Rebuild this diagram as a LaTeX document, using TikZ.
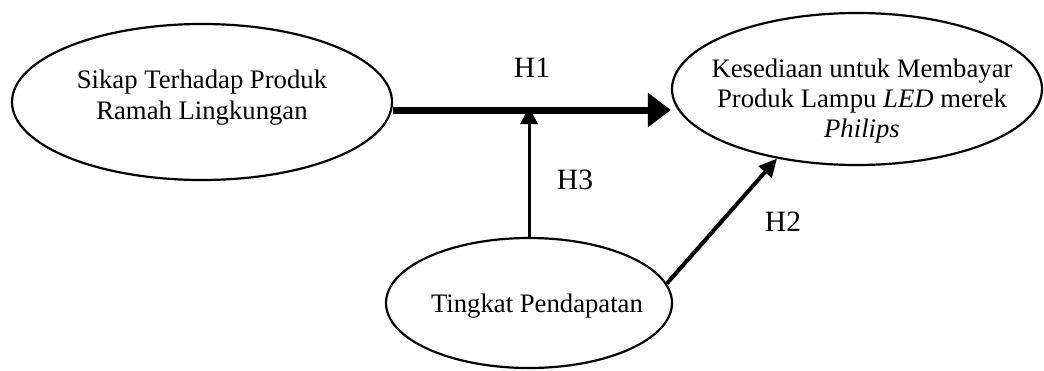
\documentclass[tikz,border=0pt]{standalone}
\usepackage{fontspec}
\setmainfont{Liberation Serif}
\usetikzlibrary{shapes.geometric,arrows.meta}
\begin{document}
\begin{tikzpicture}[x=1pt,y=-1pt,
  konstruk/.style={draw,ellipse,line width=2.2pt,inner sep=0pt},
  teks/.style={align=center,inner sep=0pt,font=\fontsize{26.7pt}{30pt}\selectfont},
  lbl/.style={inner sep=0pt,font=\fontsize{29.5pt}{32pt}\selectfont},
  tebal/.style={line width=7pt,-{Triangle[length=23pt,width=33pt]}},
  tegak/.style={line width=3pt,-{Triangle[length=17pt,width=17pt]}},
  miring/.style={line width=4pt,-{Triangle[length=18pt,width=17pt]}}]
\useasboundingbox (0,0) rectangle (1044,370);
% ellipses
\node[konstruk,minimum width=380pt,minimum height=156pt] (e1) at (202,102) {};
\node[konstruk,minimum width=370pt,minimum height=152pt] (e2) at (857,89) {};
\node[konstruk,minimum width=286pt,minimum height=130pt] (e3) at (529,303) {};
% texts
\node[teks,font=\fontsize{26.7pt}{31pt}\selectfont] (t1) at (202,98) {Sikap Terhadap Produk\\Ramah Lingkungan};
\node[teks] (t2) at (862,101) {Kesediaan untuk Membayar\\Produk Lampu \textit{LED} merek\\\textit{Philips}};
\node[teks] (t3) at (537,306) {Tingkat Pendapatan};
% connectors
\coordinate (h) at (529,110);
\coordinate (j) at (529,107);
\draw[tebal] (e1.east |- h) -- (e2.west |- h);
\draw[tegak] (e3.north) -- (j);
\draw[miring] (e3.8) -- (e2.221);
% labels
\node[lbl] (H1) at (532,68) {H1};
\node[lbl] (H3) at (575,180) {H3};
\node[lbl] (H2) at (783,222) {H2};
\end{tikzpicture}
\end{document}
